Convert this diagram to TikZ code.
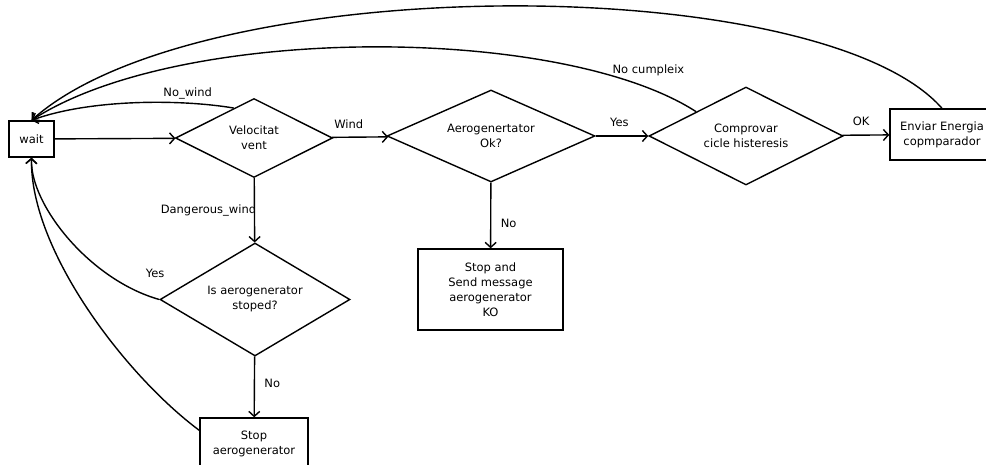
\documentclass[tikz,border=0pt]{standalone}
\usepackage{fontspec}
\setmainfont{DejaVu Sans}
\usetikzlibrary{shapes.geometric,arrows.meta}

\begin{document}
\begin{tikzpicture}[x=1pt,y=-1pt,
    decision/.style ={diamond, draw, line width=1.4pt, aspect=2, inner sep=0pt, align=center},
    process/.style ={rectangle, draw, line width=1.4pt, inner sep=2pt, align=center},
    flow/.style ={->, line width=1.4pt},
    >={Straight Barb[length=5pt,width=11pt]},
    font=\fontsize{11.5}{15}\selectfont]
   \useasboundingbox (0,0) rectangle (986,465);

   \node[process, minimum width=45pt, minimum height=36pt] (wait) at (31.5,139) {wait};
   \node[decision, minimum width=157pt, minimum height=79pt] (vel) at (254,138) {Velocitat\\vent};
   \node[decision, minimum width=208pt, minimum height=92pt] (aero) at (491,136) {Aerogenertator\\Ok?};
   \node[decision, minimum width=194pt, minimum height=98pt] (comp) at (746,136) {Comprovar\\cicle histeresis};
   \node[process, minimum width=104pt, minimum height=51pt] (env) at (942,134.5) {Enviar Energia\\copmparador};
   \node[process, minimum width=145pt, minimum height=81pt] (ko) at (490.5,289.5) {Stop and\\Send message\\aerogenerator\\KO};
   \node[decision, minimum width=190pt, minimum height=113pt] (stoped) at (255,299.5) {Is aerogenerator\\stoped?};
   \node[process, minimum width=108pt, minimum height=52pt] (stop) at (254,444) {Stop\\aerogenerator};

   \draw[flow] (wait) -- (vel);
   \draw[flow] (vel) -- node[pos=0.3, above=5pt] {Wind} (aero);
   \draw[flow] (aero) -- node[pos=0.45, above=5pt] {Yes} (comp);
   \draw[flow] (comp) -- node[pos=0.4, above=5pt] {OK} (env);
   \draw[flow] (vel) -- node[midway, xshift=-46pt] {Dangerous\_wind} (stoped);
   \draw[flow] (aero) -- node[pos=0.62, right=6pt] {No} (ko);
   \draw[flow] (stoped) -- node[pos=0.45, right=6pt] {No} (stop);

   % back to wait
   \draw[flow] (vel.124) .. controls (180,99) and (90,99) .. node[pos=0.25, yshift=10pt] {No\_wind} (wait.north);
   \draw[flow] (comp.154) .. controls (560,24) and (180,24) .. node[pos=0.1, yshift=18pt] {No cumpleix} (wait.north);
   \draw[flow] (env.north) .. controls (820,-30) and (200,-30) .. (wait.north);
   \draw[flow] (stoped.west) .. controls (90,280) and (30,205) .. node[pos=0.02, yshift=25pt] {Yes} (wait.south);
   \draw[flow] (stop.166) .. controls (125,375) and (30,250) .. (wait.south);
 \end{tikzpicture}
\end{document}
